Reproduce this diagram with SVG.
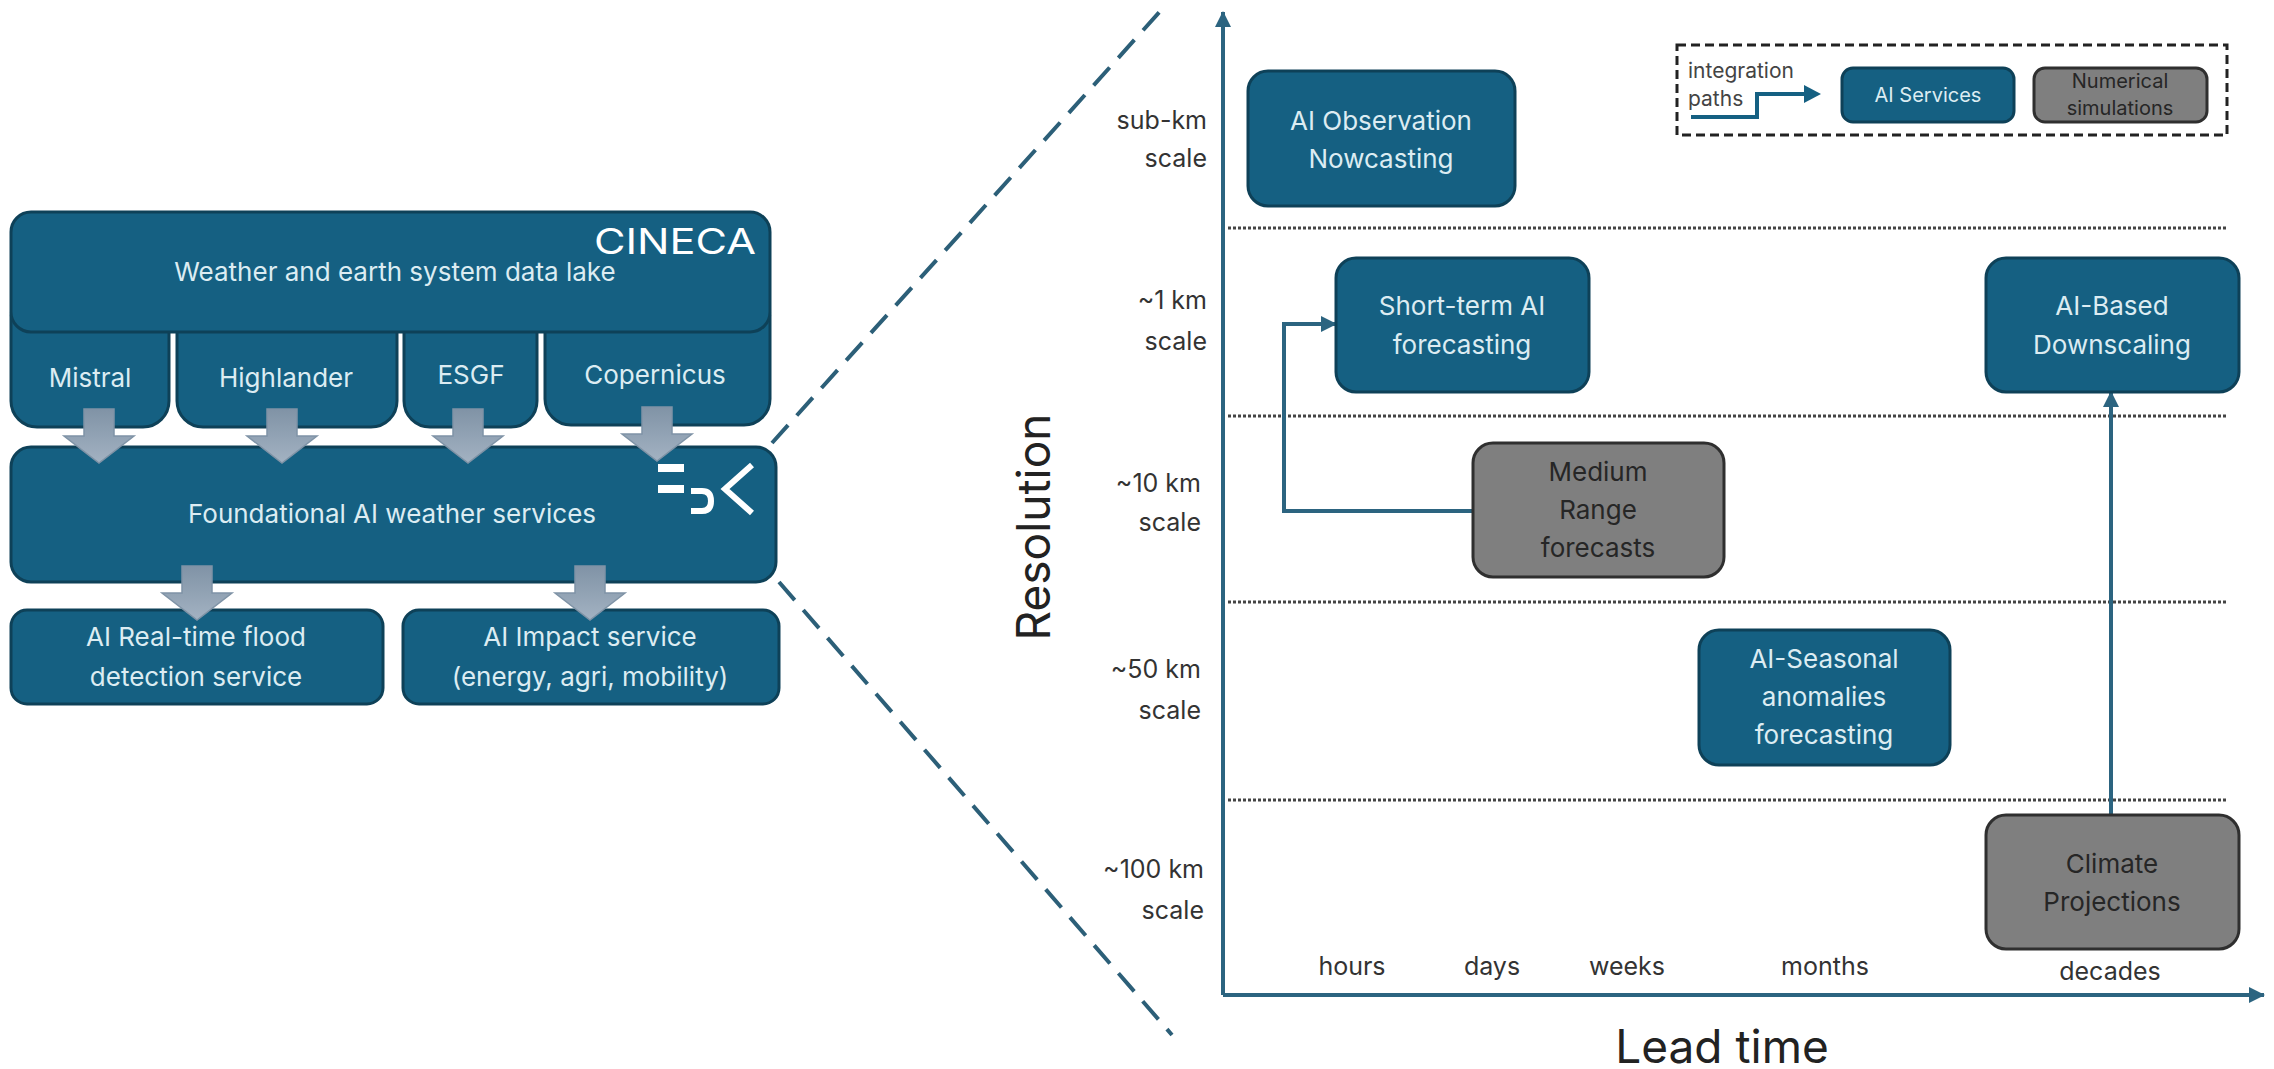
<svg xmlns="http://www.w3.org/2000/svg" width="2274" height="1069" viewBox="0 0 2274 1069">
<style>
text{font-family:"Inter","Noto Sans","Liberation Sans",sans-serif}
.b{fill:#156082;stroke:#0e4158;stroke-width:3}
.g{fill:#7f7f7f;stroke:#2f2f2f;stroke-width:3}
.tw{fill:#dcecf2;font-size:26px;text-anchor:middle}
.tk{fill:#262626;font-size:26px;text-anchor:middle}
.l{fill:#333;font-size:25px;text-anchor:end}
.x{fill:#333;font-size:25px;text-anchor:middle}
.ax{fill:none;stroke:#2c6480;stroke-width:4}
.dot{fill:none;stroke:#444;stroke-width:3;stroke-dasharray:3 2}
.da{fill:none;stroke:#2c5f78;stroke-width:4;stroke-dasharray:24 13}
.ar{fill:url(#ga);stroke:#7f93a6;stroke-width:1.5}
.lg{fill:#fff}
</style>
<defs>
<linearGradient id="ga" x1="0" y1="0" x2="0" y2="1"><stop offset="0" stop-color="#8093a6"/><stop offset="1" stop-color="#a3b2c2"/></linearGradient>
<marker id="ah" markerUnits="userSpaceOnUse" markerWidth="20" markerHeight="18" refX="16" refY="9" orient="auto"><path d="M0,1 L16,9 L0,17 Z" fill="#156082"/></marker>
<marker id="ahb" markerUnits="userSpaceOnUse" markerWidth="18" markerHeight="20" refX="15" refY="9" orient="auto"><path d="M0,1 L16,9 L0,17 Z" fill="#2c6480"/></marker>
</defs>
<rect width="2274" height="1069" fill="#fff"/>
<g id="left-nodes">
<g id="mistral"><rect class="b" x="11" y="290" width="158" height="137" rx="26"/><text class="tw" x="90" y="387">Mistral</text></g>
<g id="highlander"><rect class="b" x="177" y="290" width="220" height="137" rx="26"/><text class="tw" x="286" y="387">Highlander</text></g>
<g id="esgf"><rect class="b" x="404" y="290" width="133" height="137" rx="26"/><text class="tw" x="471" y="384">ESGF</text></g>
<g id="copernicus"><rect class="b" x="545" y="290" width="225" height="135" rx="26"/><text class="tw" x="655" y="384">Copernicus</text></g>
<g id="datalake"><rect class="b" x="11" y="212" width="759" height="120" rx="20"/><text class="tw" x="395" y="281">Weather and earth system data lake</text>
<text x="594" y="254" fill="#fff" font-size="36" textLength="162" lengthAdjust="spacingAndGlyphs">CINECA</text></g>
<g id="foundational"><rect class="b" x="11" y="447" width="765" height="135" rx="20"/><text class="tw" x="392" y="523">Foundational AI weather services</text>
<g id="edk-logo"><rect class="lg" x="658" y="464" width="26" height="8"/><rect class="lg" x="658" y="485" width="26" height="8"/><path d="M691,491 H702 Q711,491 711,501 Q711,511 702,511 H691" fill="none" stroke="#fff" stroke-width="6"/><path d="M752,465 L725,489 L752,513" fill="none" stroke="#fff" stroke-width="6"/></g></g>
<g id="flood"><rect class="b" x="11" y="610" width="372" height="94" rx="16"/><text class="tw" x="196" y="646">AI Real-time flood</text><text class="tw" x="196" y="686">detection service</text></g>
<g id="impact"><rect class="b" x="403" y="610" width="376" height="94" rx="16"/><text class="tw" x="590" y="646">AI Impact service</text><text class="tw" x="590" y="686">(energy, agri, mobility)</text></g>
</g>
<g id="block-arrows">
<path class="ar" d="M84,409 H114 V436 H134 L99,463 L64,436 H84 Z"/>
<path class="ar" d="M267,409 H297 V436 H317 L282,463 L247,436 H267 Z"/>
<path class="ar" d="M453,409 H483 V436 H503 L468,463 L433,436 H453 Z"/>
<path class="ar" d="M642,407 H672 V434 H692 L657,461 L622,434 H642 Z"/>
<path class="ar" d="M182,566 H212 V593 H232 L197,620 L162,593 H182 Z"/>
<path class="ar" d="M575,566 H605 V593 H625 L590,620 L555,593 H575 Z"/>
</g>
<g id="connectors">
<path class="da" d="M772,443 L1164,7"/>
<path class="da" d="M779,582 L1172,1035"/>
<path class="ax" marker-end="url(#ahb)" d="M1223,995 V12"/>
<path class="ax" marker-end="url(#ahb)" d="M1223,995 H2264"/>
<path class="dot" d="M1228,228 H2227"/>
<path class="dot" d="M1228,416 H2227"/>
<path class="dot" d="M1228,602 H2227"/>
<path class="dot" d="M1228,800 H2227"/>
<path class="ax" marker-end="url(#ahb)" d="M1473,511 H1284 V324 H1336"/>
<path class="ax" marker-end="url(#ahb)" d="M2111,815 V392"/>
</g>
<g id="right-nodes">
<g id="nowcasting"><rect class="b" x="1248" y="71" width="267" height="135" rx="20"/><text class="tw" x="1381" y="130">AI Observation</text><text class="tw" x="1381" y="168">Nowcasting</text></g>
<g id="shortterm"><rect class="b" x="1336" y="258" width="253" height="134" rx="20"/><text class="tw" x="1462" y="315">Short-term AI</text><text class="tw" x="1462" y="354">forecasting</text></g>
<g id="downscaling"><rect class="b" x="1986" y="258" width="253" height="134" rx="20"/><text class="tw" x="2112" y="315">AI-Based</text><text class="tw" x="2112" y="354">Downscaling</text></g>
<g id="medium"><rect class="g" x="1473" y="443" width="251" height="134" rx="20"/><text class="tk" x="1598" y="481">Medium</text><text class="tk" x="1598" y="519">Range</text><text class="tk" x="1598" y="557">forecasts</text></g>
<g id="seasonal"><rect class="b" x="1699" y="630" width="251" height="135" rx="20"/><text class="tw" x="1824" y="668">AI-Seasonal</text><text class="tw" x="1824" y="706">anomalies</text><text class="tw" x="1824" y="744">forecasting</text></g>
<g id="climate"><rect class="g" x="1986" y="815" width="253" height="134" rx="20"/><text class="tk" x="2112" y="873">Climate</text><text class="tk" x="2112" y="911">Projections</text></g>
</g>
<g id="axis-labels">
<text class="l" x="1207" y="129">sub-km</text><text class="l" x="1207" y="167">scale</text>
<text class="l" x="1207" y="309">~1 km</text><text class="l" x="1207" y="350">scale</text>
<text class="l" x="1201" y="492">~10 km</text><text class="l" x="1201" y="531">scale</text>
<text class="l" x="1201" y="678">~50 km</text><text class="l" x="1201" y="719">scale</text>
<text class="l" x="1204" y="878">~100 km</text><text class="l" x="1204" y="919">scale</text>
<text class="x" x="1352" y="975">hours</text><text class="x" x="1492" y="975">days</text><text class="x" x="1627" y="975">weeks</text><text class="x" x="1825" y="975">months</text><text class="x" x="2110" y="980">decades</text>
<text x="1050" y="527" transform="rotate(-90 1050 527)" text-anchor="middle" fill="#222" font-size="46">Resolution</text>
<text x="1722" y="1063" text-anchor="middle" fill="#222" font-size="46">Lead time</text>
</g>
<g id="legend">
<rect x="1677" y="45" width="550" height="90" fill="none" stroke="#222" stroke-width="3" stroke-dasharray="9 5"/>
<text x="1688" y="78" fill="#444" font-size="21">integration</text><text x="1688" y="106" fill="#444" font-size="21">paths</text>
<path d="M1691,117 H1757 V94 H1806" fill="none" stroke="#156082" stroke-width="4"/><path d="M1804,85 L1821,94 L1804,103 Z" fill="#156082"/>
<g id="legend-ai"><rect class="b" x="1842" y="68" width="172" height="54" rx="11"/><text class="tw" x="1928" y="102" style="font-size:20px">AI Services</text></g>
<g id="legend-num"><rect class="g" x="2034" y="68" width="173" height="54" rx="11"/><text class="tk" x="2120" y="88" style="font-size:20px">Numerical</text><text class="tk" x="2120" y="115" style="font-size:20px">simulations</text></g>
</g>
</svg>
